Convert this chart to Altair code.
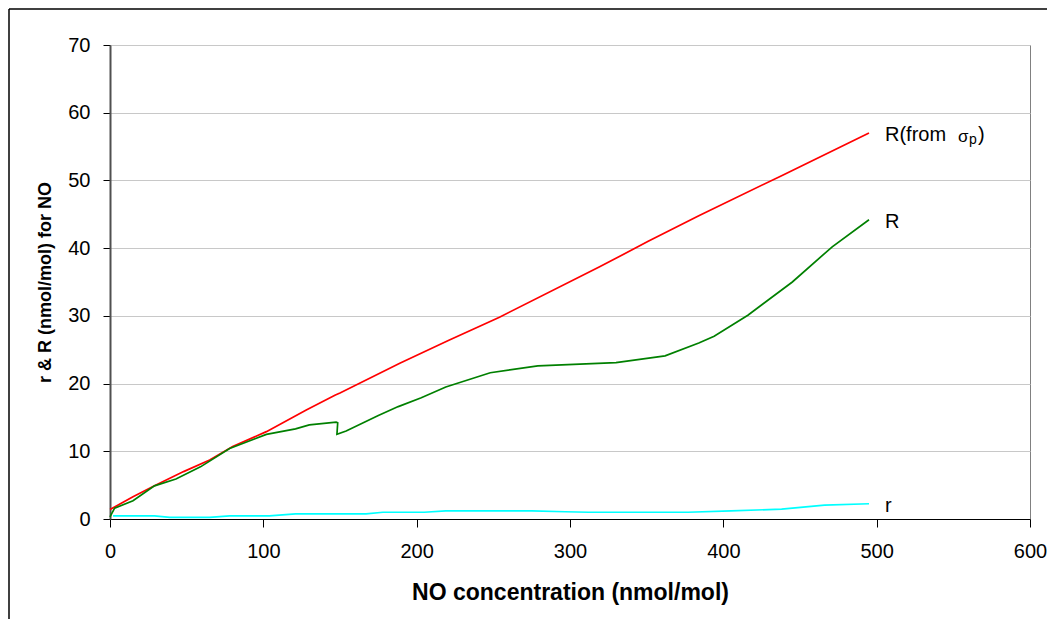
import altair as alt
import pandas as pd

# ---- data ----
red_x = [0, 15, 29, 48, 65, 80, 102, 128, 147, 150, 189, 221, 254, 319, 351, 384, 438, 495]
red_y = [1.4, 3.3, 4.9, 7.0, 8.7, 10.7, 12.9, 16.1, 18.3, 18.6, 23.0, 26.4, 29.8, 37.2, 41.0, 44.8, 50.7, 57.0]

green_x = [0, 3, 15, 29, 43, 59, 78, 102, 121, 130, 147.5, 148.5, 148, 154, 175, 188, 203, 219,
           248, 279, 330, 362, 384, 394, 416, 445, 471, 495]
green_y = [0.3, 1.6, 2.7, 4.9, 5.9, 7.7, 10.4, 12.5, 13.3, 13.9, 14.3, 14.2, 12.5, 13.0, 15.3, 16.6,
           17.9, 19.5, 21.6, 22.6, 23.1, 24.1, 26.0, 27.0, 30.1, 35.0, 40.2, 44.2]

cyan_x = [2, 29, 39, 65, 78, 104, 121, 167, 178, 205, 219, 275, 297, 312, 377, 405, 438, 466, 495]
cyan_y = [0.45, 0.45, 0.25, 0.25, 0.45, 0.45, 0.75, 0.75, 1.0, 1.0, 1.2, 1.2, 1.07, 1.0, 1.0,
          1.2, 1.45, 2.05, 2.25]

series_names = ["R(from σp)", "R", "r"]
series_colors = ["#ff0000", "#008000", "#00ffff"]
x_ticks = [0, 100, 200, 300, 400, 500, 600]
y_ticks = [0, 10, 20, 30, 40, 50, 60, 70]

FONT = "Liberation Sans"

frames = []
for name, xs, ys in zip(series_names, [red_x, green_x, cyan_x], [red_y, green_y, cyan_y]):
    frames.append(pd.DataFrame({"series": name, "x": xs, "y": ys, "i": list(range(len(xs)))}))
df = pd.concat(frames, ignore_index=True)

xscale = alt.Scale(domain=[0, 600], nice=False)
yscale = alt.Scale(domain=[0, 70], nice=False)

lines = alt.Chart(df).mark_line(strokeWidth=1.7).encode(
    x=alt.X("x:Q", scale=xscale,
            axis=alt.Axis(values=x_ticks, grid=False, tickSize=8, labelPadding=14,
                          labelFlush=False, labelOverlap=False,
                          domainColor="#000000", domainWidth=1.2, tickColor="#000000",
                          labelFont=FONT, labelFontSize=20, labelColor="#000000",
                          titleFont=FONT, titleFontSize=23, titleFontWeight="bold",
                          titleColor="#000000",
                          title="NO concentration (nmol/mol)", titleY=80,
                          titleBaseline="alphabetic")),
    y=alt.Y("y:Q", scale=yscale,
            axis=alt.Axis(values=y_ticks, grid=True, tickSize=7, labelPadding=13,
                          labelFlush=False, labelOverlap=False,
                          domainColor="#505050", domainWidth=2, tickColor="#000000",
                          gridColor="#c8c8c8", gridWidth=1,
                          labelFont=FONT, labelFontSize=20, labelColor="#000000",
                          titleFont=FONT, titleFontSize=18, titleFontWeight="bold",
                          titleColor="#000000",
                          title="r & R (nmol/mol) for NO", titleX=-60, titleY=237,
                          titleAngle=-90, titleAlign="center", titleBaseline="alphabetic")),
    color=alt.Color("series:N", scale=alt.Scale(domain=series_names, range=series_colors), legend=None),
    detail="series:N",
    order="i:Q",
)

ends = pd.DataFrame({"x": [red_x[-1], green_x[-1], cyan_x[-1]],
                     "y": [red_y[-1], green_y[-1], cyan_y[-1]],
                     "label": ["R(from", "R", "r"]})
red_end = ends.iloc[[0]]

def txt(data, text, dx, dy, size):
    return alt.Chart(data).mark_text(align="left", baseline="alphabetic", dx=dx, dy=dy,
                                     font=FONT, fontSize=size, color="#000000").encode(
        x=alt.X("x:Q", scale=xscale), y=alt.Y("y:Q", scale=yscale), text=alt.value(text))

labels = alt.Chart(ends).mark_text(align="left", baseline="alphabetic", dx=16, dy=8,
                                   font=FONT, fontSize=20, color="#000000").encode(
    x=alt.X("x:Q", scale=xscale), y=alt.Y("y:Q", scale=yscale), text="label:N")

sigma = txt(red_end, "σ", 89, 9, 17)
sub_p = txt(red_end, "p", 100, 11, 14)
paren = txt(red_end, ")", 109, 8, 20)

frame_df = pd.DataFrame({"k": [0]})
border_left = alt.Chart(frame_df).mark_rule(color="#000000", strokeWidth=1.5).encode(
    x=alt.value(-101), y=alt.value(-36), y2=alt.value(620))
border_top = alt.Chart(frame_df).mark_rule(color="#000000", strokeWidth=1.5).encode(
    x=alt.value(-101), x2=alt.value(1000), y=alt.value(-36))

chart = alt.layer(lines, labels, sigma, sub_p, paren, border_left, border_top).properties(
    width=920, height=474,
    autosize=alt.AutoSizeParams(type="none"),
    padding={"left": 102, "top": 37, "right": 17, "bottom": 100},
).configure_view(stroke="#808080", strokeWidth=1)

chart.save("out.html", embed_options={"renderer": "svg", "actions": False})
